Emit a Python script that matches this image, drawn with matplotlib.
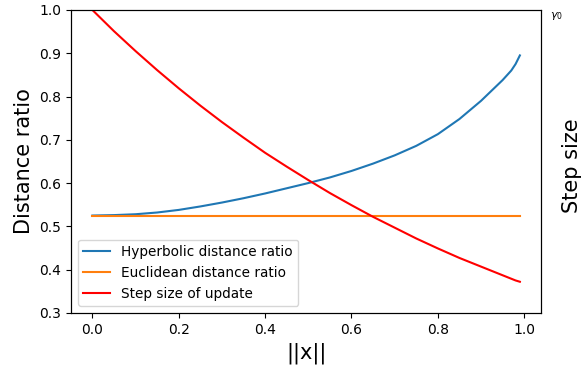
import matplotlib

matplotlib.use("Agg")
from matplotlib import pyplot as plt

# values
norm_x = [0.0, 0.05, 0.1, 0.15, 0.2, 0.25, 0.3, 0.35, 0.4, 0.45, 0.5, 0.55,
          0.6, 0.65, 0.7, 0.75, 0.8, 0.85, 0.9, 0.95, 0.97, 0.98, 0.99]
hyperbolic_ratio = [0.525, 0.526, 0.528, 0.532, 0.538, 0.546, 0.555, 0.565,
                    0.576, 0.588, 0.600, 0.613, 0.628, 0.645, 0.664, 0.686,
                    0.713, 0.748, 0.790, 0.838, 0.860, 0.875, 0.895]
euclidean_ratio = [0.525] * len(norm_x)
step_size = [1.0, 0.951, 0.905, 0.861, 0.819, 0.779, 0.741, 0.705, 0.670,
             0.638, 0.607, 0.577, 0.549, 0.522, 0.497, 0.472, 0.449, 0.427,
             0.407, 0.387, 0.379, 0.375, 0.372]

fig = plt.figure(figsize=(5.82, 3.69), dpi=100)
ax = fig.add_axes([0.122, 0.152, 0.808, 0.821])

l1, = ax.plot(norm_x, hyperbolic_ratio, color="#1f77b4", label="Hyperbolic distance ratio")
l2, = ax.plot(norm_x, euclidean_ratio, color="#ff7f0e", label="Euclidean distance ratio")
ax.set_ylim(0.3, 1.0)
ax.set_xlabel("||x||", fontsize=15)
ax.set_ylabel("Distance ratio", fontsize=15)
ax.tick_params(labelsize=10)

ax2 = ax.twinx()
l3, = ax2.plot(norm_x, step_size, color="red", label="Step size of update")
ax2.set_ylim(0.3, 1.0)
ax2.set_yticks([1.0])
ax2.set_yticklabels([r"$\gamma_0$"], fontsize=8)
ax2.tick_params(axis="y", length=0, pad=6)
for lab in ax2.get_yticklabels():
    lab.set_va("top")
ax2.set_ylabel("Step size", fontsize=15)
ax2.yaxis.set_label_coords(1.045, 0.485)

ax.legend(handles=[l1, l2, l3], loc="lower left", fontsize=9.8)

fig.savefig("out.png")
